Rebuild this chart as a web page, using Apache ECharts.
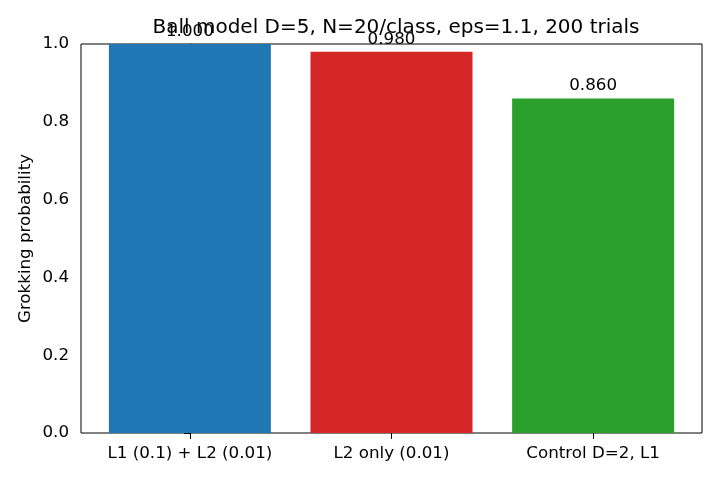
<!DOCTYPE html>
<html>
<head>
<meta charset="utf-8">
<script src="https://cdn.jsdelivr.net/npm/echarts@6/dist/echarts.min.js"></script>
<style>
  html, body { margin: 0; padding: 0; background: #fff; }
  #chart { width: 720px; height: 480px; }
</style>
</head>
<body>
<div id="chart"></div>
<script>
const categories = ['L1 (0.1) + L2 (0.01)', 'L2 only (0.01)', 'Control D=2, L1'];
const probabilities = [1.0, 0.98, 0.86];
const barColors = ['#1f77b4', '#d62728', '#2ca02c'];

const font = 'DejaVu Sans';
const chart = echarts.init(document.getElementById('chart'));

const option = {
  animation: false,
  title: {
    text: 'Ball model D=5, N=20/class, eps=1.1, 200 trials',
    left: 391,
    textAlign: 'center',
    top: 13,
    textStyle: { fontFamily: font, fontSize: 20, fontWeight: 'normal', color: '#000' }
  },
  grid: {
    left: 81, right: 18, top: 44, bottom: 47,
    show: true, borderColor: '#000', borderWidth: 1, backgroundColor: 'transparent'
  },
  xAxis: {
    type: 'value',
    min: -0.54,
    max: 2.54,
    splitLine: { show: false },
    axisLine: { show: false },
    axisTick: { show: true, customValues: [0, 1, 2], length: 6, lineStyle: { color: '#000' } },
    axisLabel: {
      customValues: [0, 1, 2],
      formatter: v => categories[Math.round(v)],
      fontFamily: font, fontSize: 16.7, color: '#000', margin: 12
    }
  },
  yAxis: {
    type: 'value',
    min: 0,
    max: 1,
    interval: 0.2,
    name: 'Grokking probability',
    nameLocation: 'middle',
    nameGap: 47,
    nameMoveOverlap: false,
    nameTextStyle: { fontFamily: font, fontSize: 16.7, color: '#000' },
    splitLine: { show: false },
    axisLine: { show: true, lineStyle: { color: '#000' } },
    axisTick: { show: true, length: 6, lineStyle: { color: '#000' } },
    axisLabel: {
      formatter: v => v.toFixed(1),
      fontFamily: font, fontSize: 16.7, color: '#000', margin: 12
    }
  },
  series: [{
    type: 'bar',
    barWidth: 162,
    data: probabilities.map((p, i) => ({
      value: [i, p],
      itemStyle: { color: barColors[i] }
    })),
    label: {
      show: true,
      position: 'top',
      distance: 4,
      formatter: p => p.value[1].toFixed(3),
      fontFamily: font, fontSize: 16.7, color: '#000'
    }
  }]
};

chart.setOption(option);
</script>
</body>
</html>
